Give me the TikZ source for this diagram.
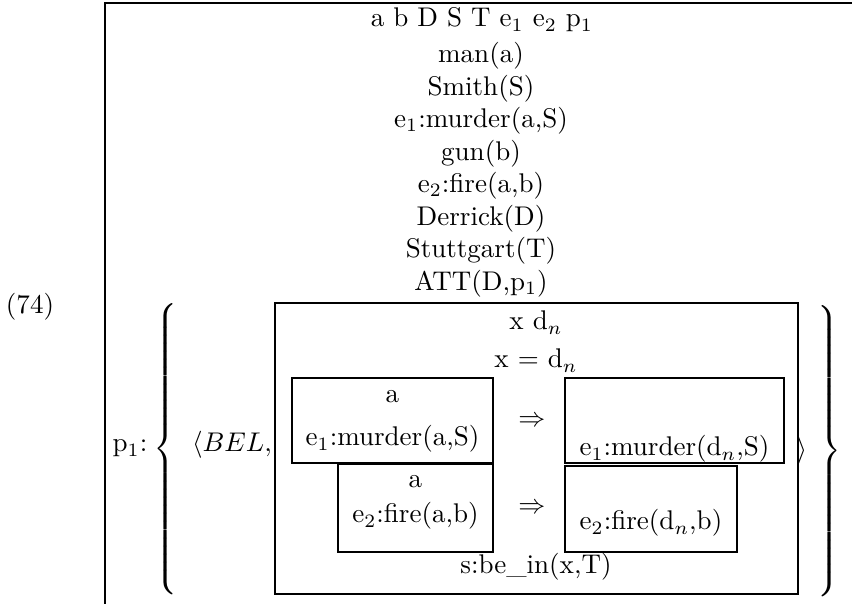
\documentclass[tikz,border=0pt]{standalone}
\usepackage{amsmath}
\usetikzlibrary{positioning, fit}

\begin{document}
\begin{tikzpicture}[
  x=0.37pt, y=-0.37pt,
  drsbox/.style={rectangle, draw=black, line width=1pt, inner sep=0pt},
  cond/.style={inner sep=0pt, anchor=base},
  sym/.style={inner sep=0pt, anchor=center}
]
\useasboundingbox (0,0) rectangle (852,604);
\clip (0,0) rectangle (852,604);

% outer DRS, runs off the page
\node[drsbox, fit={(105,3) (900,660)}] (outer) {};
\node[cond] (num) at (30,314) {(74)};

% universe and conditions
\node[cond] (univ) at (482,27) {a b D S T e$_1$ e$_2$ p$_1$};
\node[cond] (man) at (481,63) {man(a)};
\node[cond] (smith) at ([yshift=-12pt]man.base) {Smith(S)};
\node[cond] (murder) at ([yshift=-12pt]smith.base) {e$_1$:murder(a,S)};
\node[cond] (gun) at ([yshift=-12pt]murder.base) {gun(b)};
\node[cond] (fire) at ([yshift=-12pt]gun.base) {e$_2$:fire(a,b)};
\node[cond] (derrick) at ([yshift=-12pt]fire.base) {Derrick(D)};
\node[cond] (stutt) at ([yshift=-12pt]derrick.base) {Stuttgart(T)};
\node[cond] (att) at ([yshift=-12pt]stutt.base) {ATT(D,p$_1$)};

% p1 : { <BEL, K> }
\node[cond] (plabel) at (130,452) {p$_1$:};
\node[sym] (lbrace) at (167,449) {$\left\{\vrule height 58pt depth 53pt width 0pt\right.$};
\node[cond] (bel) at (232,452) {$\langle BEL,$};
\node[drsbox, fit={(275,303) (798,594)}] (belbox) {};
\node[sym] (rangle) at (802,451) {$\rangle$};
\node[sym] (rbrace) at (828,451) {$\left.\vrule height 58pt depth 53pt width 0pt\right\}$};

% embedded DRS
\node[cond] (buniv) at (536,330) {x d$_n$};
\node[cond] (beq) at (536,368) {x = d$_n$};

\node[drsbox, fit={(292,378) (493,463)}] (antA) {};
\node[cond] (antAu) at (392.5,403) {a};
\node[cond] (antAc) at (392.5,446) {e$_1$:murder(a,S)};
\node[sym] (impA) at (532,422) {$\Rightarrow$};
\node[drsbox, fit={(565,378) (784,463)}] (conA) {};
\node[cond] (conAc) at (674.5,456) {e$_1$:murder(d$_n$,S)};

\node[drsbox, fit={(338,464) (493,552)}] (antB) {};
\node[cond] (antBu) at (415.5,488) {a};
\node[cond] (antBc) at (415.5,523) {e$_2$:fire(a,b)};
\node[sym] (impB) at (532,509) {$\Rightarrow$};
\node[drsbox, fit={(565,466) (737,552)}] (conB) {};
\node[cond] (conBc) at (651,530) {e$_2$:fire(d$_n$,b)};

\node[cond] (bein) at (536,574) {s:be\_in(x,T)};
\end{tikzpicture}
\end{document}
